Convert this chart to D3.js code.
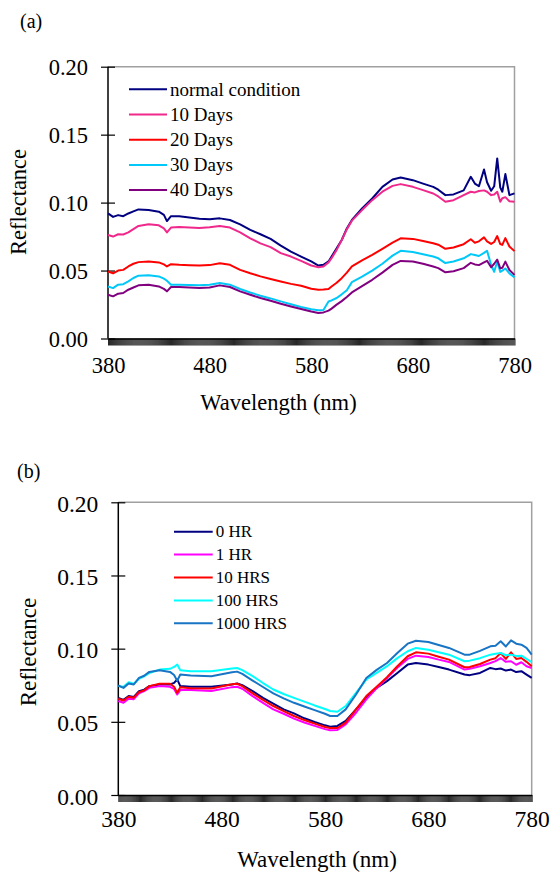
<!DOCTYPE html>
<html>
<head>
<meta charset="utf-8">
<script src="https://cdn.jsdelivr.net/npm/d3@7"></script>
<style>
  body { margin: 0; background: #fff; }
</style>
</head>
<body>
<svg id="viz" width="551" height="875"></svg>
<script>
// ---- panel (a) data: reflectance vs wavelength (nm)
let wavelengthsA = [380, 385, 390, 395, 400, 405, 410, 420, 430, 435, 438, 442, 450, 460, 470, 480, 490, 500,
  510, 520, 530, 540, 550, 560, 570, 580, 587, 592, 597, 600, 605, 610, 615, 620, 630, 640, 650, 660, 668,
  680, 690, 700, 705, 712, 720, 730, 737, 741, 745, 750, 753, 757, 760, 763, 766, 768, 771, 775, 780];
let normalCondition = [0.0921, 0.0895, 0.0908, 0.0900, 0.0920, 0.0935, 0.0950, 0.0945, 0.0933, 0.0910, 0.0864, 0.0900, 0.0900, 0.0891, 0.0882, 0.0877, 0.0884, 0.0872,
  0.0840, 0.0799, 0.0767, 0.0733, 0.0684, 0.0640, 0.0603, 0.0567, 0.0537, 0.0542, 0.0567, 0.0603, 0.0664, 0.0725, 0.0810, 0.0872, 0.0957, 0.1030, 0.1116, 0.1170, 0.1184,
  0.1165, 0.1140, 0.1116, 0.1095, 0.1055, 0.1060, 0.1090, 0.1190, 0.1140, 0.1120, 0.1244, 0.1150, 0.1087, 0.1120, 0.1325, 0.1110, 0.1080, 0.1210, 0.1055, 0.1068];
let days10 = [0.0762, 0.0750, 0.0767, 0.0765, 0.0781, 0.0805, 0.0828, 0.0840, 0.0833, 0.0810, 0.0781, 0.0816, 0.0820, 0.0816, 0.0813, 0.0818, 0.0828, 0.0816,
  0.0781, 0.0737, 0.0700, 0.0672, 0.0628, 0.0603, 0.0571, 0.0537, 0.0525, 0.0530, 0.0560, 0.0591, 0.0652, 0.0725, 0.0803, 0.0867, 0.0945, 0.1018, 0.1080, 0.1123, 0.1136,
  0.1116, 0.1092, 0.1067, 0.1045, 0.1006, 0.1018, 0.1055, 0.1080, 0.1075, 0.1085, 0.1090, 0.1080, 0.1055, 0.1060, 0.1080, 0.1006, 0.1032, 0.1040, 0.1010, 0.1006];
let days20 = [0.0493, 0.0480, 0.0500, 0.0505, 0.0530, 0.0550, 0.0562, 0.0567, 0.0560, 0.0545, 0.0530, 0.0547, 0.0542, 0.0539, 0.0537, 0.0540, 0.0554, 0.0542,
  0.0505, 0.0480, 0.0457, 0.0438, 0.0420, 0.0402, 0.0388, 0.0366, 0.0359, 0.0360, 0.0364, 0.0383, 0.0410, 0.0444, 0.0485, 0.0530, 0.0575, 0.0615, 0.0660, 0.0706, 0.0737,
  0.0733, 0.0718, 0.0701, 0.0690, 0.0660, 0.0670, 0.0694, 0.0730, 0.0705, 0.0715, 0.0744, 0.0715, 0.0696, 0.0710, 0.0754, 0.0695, 0.0689, 0.0739, 0.0677, 0.0643];
let days30 = [0.0383, 0.0371, 0.0396, 0.0400, 0.0420, 0.0445, 0.0462, 0.0466, 0.0457, 0.0440, 0.0425, 0.0396, 0.0396, 0.0393, 0.0391, 0.0395, 0.0408, 0.0396,
  0.0364, 0.0338, 0.0315, 0.0295, 0.0273, 0.0252, 0.0232, 0.0215, 0.0208, 0.0210, 0.0273, 0.0280, 0.0298, 0.0325, 0.0355, 0.0415, 0.0455, 0.0500, 0.0550, 0.0610, 0.0645,
  0.0637, 0.0620, 0.0603, 0.0590, 0.0555, 0.0567, 0.0590, 0.0621, 0.0615, 0.0607, 0.0630, 0.0646, 0.0541, 0.0491, 0.0566, 0.0490, 0.0500, 0.0515, 0.0479, 0.0450];
let days40 = [0.0322, 0.0310, 0.0330, 0.0335, 0.0359, 0.0375, 0.0391, 0.0396, 0.0383, 0.0365, 0.0347, 0.0379, 0.0379, 0.0375, 0.0371, 0.0375, 0.0391, 0.0379,
  0.0347, 0.0322, 0.0298, 0.0278, 0.0256, 0.0236, 0.0217, 0.0198, 0.0188, 0.0192, 0.0205, 0.0220, 0.0249, 0.0275, 0.0305, 0.0339, 0.0385, 0.0432, 0.0485, 0.0542, 0.0571,
  0.0567, 0.0550, 0.0530, 0.0518, 0.0487, 0.0495, 0.0518, 0.0557, 0.0545, 0.0540, 0.0560, 0.0572, 0.0524, 0.0550, 0.0580, 0.0516, 0.0520, 0.0566, 0.0504, 0.0468];
let seriesNamesA = ["normal condition", "10 Days", "20 Days", "30 Days", "40 Days"];
let coloursA = ["#000080", "#f0288c", "#ff0000", "#00c8f8", "#800080"];

// ---- panel (b) data
let wavelengthsB = [380, 385, 390, 395, 400, 405, 410, 420, 430, 434, 437, 440, 450, 470, 490, 495, 500, 510, 520,
  530, 540, 550, 560, 570, 580, 585, 592, 600, 610, 620, 630, 640, 650, 660, 668, 680, 690, 700, 715, 720,
  730, 740, 745, 750, 755, 760, 765, 770, 775, 780];
let hr0 = [0.0664, 0.0650, 0.0676, 0.0670, 0.0710, 0.0720, 0.0744, 0.0755, 0.0755, 0.0766, 0.0790, 0.0744, 0.0739, 0.0739, 0.0755, 0.0762, 0.0750, 0.0710, 0.0664,
  0.0624, 0.0585, 0.0558, 0.0524, 0.0499, 0.0476, 0.0467, 0.0472, 0.0506, 0.0585, 0.0664, 0.0732, 0.0778, 0.0834, 0.0891, 0.0902, 0.0891, 0.0875, 0.0857, 0.0823, 0.0819,
  0.0834, 0.0868, 0.0860, 0.0864, 0.0850, 0.0857, 0.0840, 0.0846, 0.0823, 0.0800];
let hr1 = [0.0642, 0.0630, 0.0658, 0.0655, 0.0694, 0.0710, 0.0732, 0.0744, 0.0739, 0.0725, 0.0687, 0.0717, 0.0717, 0.0710, 0.0737, 0.0740, 0.0726, 0.0676, 0.0630,
  0.0585, 0.0555, 0.0522, 0.0495, 0.0472, 0.0450, 0.0442, 0.0444, 0.0483, 0.0562, 0.0653, 0.0730, 0.0800, 0.0870, 0.0930, 0.0952, 0.0943, 0.0925, 0.0909, 0.0857, 0.0862,
  0.0880, 0.0902, 0.0915, 0.0936, 0.0910, 0.0914, 0.0890, 0.0907, 0.0880, 0.0868];
let hrs10 = [0.0658, 0.0646, 0.0671, 0.0665, 0.0703, 0.0715, 0.0744, 0.0760, 0.0760, 0.0740, 0.0698, 0.0737, 0.0730, 0.0728, 0.0757, 0.0760, 0.0744, 0.0694, 0.0650,
  0.0608, 0.0573, 0.0540, 0.0512, 0.0488, 0.0465, 0.0458, 0.0458, 0.0494, 0.0585, 0.0676, 0.0740, 0.0805, 0.0880, 0.0948, 0.0975, 0.0966, 0.0945, 0.0925, 0.0873, 0.0875,
  0.0895, 0.0925, 0.0935, 0.0970, 0.0930, 0.0975, 0.0930, 0.0936, 0.0910, 0.0880];
let hrs100 = [0.0744, 0.0739, 0.0771, 0.0760, 0.0794, 0.0810, 0.0834, 0.0857, 0.0862, 0.0875, 0.0891, 0.0853, 0.0846, 0.0846, 0.0864, 0.0868, 0.0853, 0.0812, 0.0765,
  0.0721, 0.0690, 0.0664, 0.0638, 0.0612, 0.0588, 0.0574, 0.0569, 0.0608, 0.0698, 0.0789, 0.0835, 0.0880, 0.0935, 0.0982, 0.1005, 0.0993, 0.0975, 0.0959, 0.0914, 0.0918,
  0.0935, 0.0959, 0.0965, 0.0970, 0.0955, 0.0959, 0.0950, 0.0952, 0.0930, 0.0907];
let hrs1000 = [0.0748, 0.0732, 0.0762, 0.0755, 0.0800, 0.0815, 0.0841, 0.0853, 0.0841, 0.0820, 0.0780, 0.0823, 0.0816, 0.0812, 0.0839, 0.0843, 0.0828, 0.0782, 0.0738,
  0.0694, 0.0660, 0.0630, 0.0605, 0.0580, 0.0555, 0.0540, 0.0540, 0.0585, 0.0687, 0.0800, 0.0855, 0.0902, 0.0970, 0.1034, 0.1054, 0.1045, 0.1025, 0.1005, 0.0959, 0.0959,
  0.0985, 0.1016, 0.1020, 0.1050, 0.1015, 0.1057, 0.1034, 0.1027, 0.1005, 0.0959];
let seriesNamesB = ["0 HR", "1 HR", "10 HRS", "100 HRS", "1000 HRS"];
let coloursB = ["#000080", "#ff00ff", "#ff0000", "#00ffff", "#1874c4"];

// shared axis ticks
let yTicks = [0, 0.05, 0.10, 0.15, 0.20];
let xTicks = [380, 480, 580, 680, 780];

const FONT = "'Liberation Serif', 'Times New Roman', Times, serif";

let svg = d3.select("#viz");
svg.append("rect").attr("width", 551).attr("height", 875).attr("fill", "#fff");

function drawPanel(opt) {
  let g = svg.append("g");
  let x = d3.scaleLinear().domain([380, 780]).range([opt.left, opt.right]);
  let y = d3.scaleLinear().domain([0, 0.2]).range([opt.bottom, opt.top]);

  // grey frame top / right
  g.append("path")
    .attr("d", `M${opt.left},${opt.top}H${opt.right}V${opt.bottom}`)
    .attr("fill", "none").attr("stroke", "#a0a0a0").attr("stroke-width", 1.5);

  // dense minor ticks under x axis (one per nm), reads as a black band
  let band = g.append("g")
    .attr("transform", `translate(0,${opt.bottom})`)
    .call(d3.axisBottom(x).tickValues(d3.range(380, 780.1, 1)).tickSize(7).tickFormat(""));
  band.select(".domain").remove();
  band.selectAll("line").attr("stroke", "#000").attr("stroke-width", 0.85);

  // x axis labels
  let xa = g.append("g")
    .attr("transform", `translate(0,${opt.bottom})`)
    .call(d3.axisBottom(x).tickValues(xTicks).tickSize(0).tickFormat(d3.format("d")));
  xa.attr("font-family", null).attr("font-size", null);
  xa.select(".domain").attr("stroke", "#000").attr("stroke-width", 1.5);
  xa.selectAll("text").attr("y", opt.xLabelDy).attr("dy", 0)
    .attr("font-size", opt.tickFont).attr("font-family", FONT).attr("fill", "#000");

  // y axis with crossing ticks
  let ya = g.append("g")
    .attr("transform", `translate(${opt.left},0)`)
    .call(d3.axisLeft(y).tickValues(yTicks).tickSize(7).tickFormat(d3.format(".2f")));
  ya.attr("font-family", null).attr("font-size", null);
  ya.select(".domain").attr("stroke", "#000").attr("stroke-width", 1.5).attr("d", `M0,${opt.top}V${opt.bottom}`);
  ya.selectAll("line").attr("x1", -7).attr("x2", 7).attr("stroke", "#000").attr("stroke-width", 1.2);
  ya.selectAll("text").attr("x", -20).attr("dy", opt.yLabelDy)
    .attr("font-size", opt.tickFont).attr("font-family", FONT).attr("fill", "#000");

  // series lines
  let line = d3.line().x((d) => x(d[0])).y((d) => y(d[1]));
  opt.series.forEach((s, i) => {
    let pts = opt.wl.map((w, k) => [w, s[k]]);
    g.append("path").datum(pts)
      .attr("d", line)
      .attr("fill", "none")
      .attr("stroke", opt.colours[i])
      .attr("stroke-width", 2)
      .attr("stroke-linejoin", "round");
  });

  // legend
  opt.names.forEach((n, i) => {
    let ly = opt.legY + i * opt.legStep;
    g.append("line").attr("x1", opt.legX).attr("x2", opt.legX + opt.legLen)
      .attr("y1", ly).attr("y2", ly).attr("stroke", opt.colours[i]).attr("stroke-width", 2);
    g.append("text").attr("x", opt.legX + opt.legLen + 3).attr("y", ly)
      .attr("dy", "0.33em").attr("font-family", FONT).attr("font-size", opt.legFont).text(n);
  });

  // titles
  g.append("text").attr("x", opt.xTitleX).attr("y", opt.xTitleY)
    .attr("text-anchor", "middle").attr("font-family", FONT).attr("font-size", opt.titleFont)
    .text("Wavelength (nm)");
  g.append("text")
    .attr("transform", `translate(${opt.yTitleX},${opt.yTitleY}) rotate(-90)`)
    .attr("text-anchor", "middle").attr("font-family", FONT).attr("font-size", opt.titleFont)
    .text("Reflectance");
  g.append("text").attr("x", opt.tagX).attr("y", opt.tagY)
    .attr("font-family", FONT).attr("font-size", 20).text(opt.tag);
}

drawPanel({
  left: 108, right: 514.5, top: 66.7, bottom: 338.5,
  wl: wavelengthsA, series: [normalCondition, days10, days20, days30, days40],
  names: seriesNamesA, colours: coloursA,
  tickFont: 22.5, xLabelDy: 34.5, yLabelDy: 8,
  legX: 129, legLen: 38, legY: 89.3, legStep: 25.2, legFont: 19,
  titleFont: 22.5, xTitleX: 278.5, xTitleY: 410, yTitleX: 26, yTitleY: 202,
  tag: "(a)", tagX: 20, tagY: 28
});

drawPanel({
  left: 118.3, right: 531.7, top: 502.3, bottom: 795,
  wl: wavelengthsB, series: [hr0, hr1, hrs10, hrs100, hrs1000],
  names: seriesNamesB, colours: coloursB,
  tickFont: 23.5, xLabelDy: 32, yLabelDy: 9,
  legX: 174, legLen: 38.7, legY: 531.7, legStep: 22.9, legFont: 17,
  titleFont: 23, xTitleX: 317, xTitleY: 867, yTitleX: 36, yTitleY: 652,
  tag: "(b)", tagX: 17, tagY: 478
});
</script>
</body>
</html>
